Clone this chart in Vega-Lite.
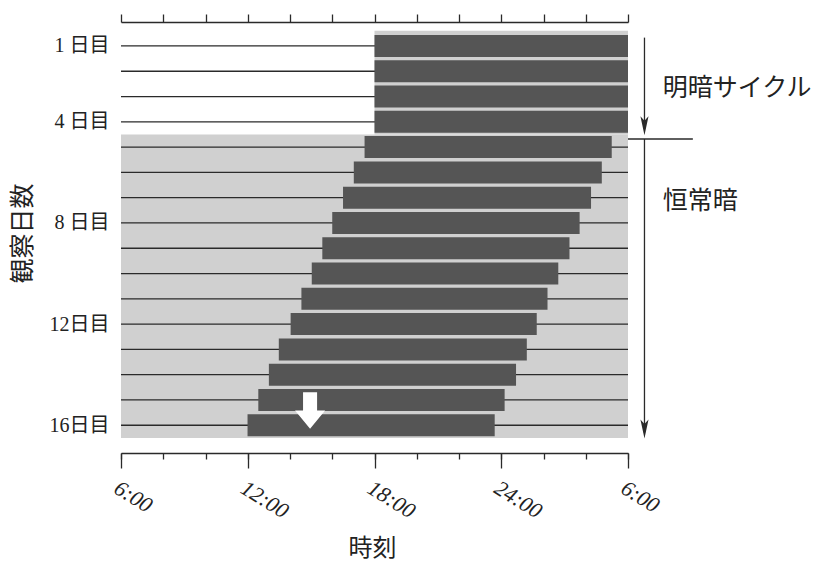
{
  "$schema": "https://vega.github.io/schema/vega-lite/v6.json",
  "width": 507,
  "height": 431,
  "autosize": "none",
  "padding": {"left": 121, "top": 22, "right": 191, "bottom": 112},
  "background": "white",
  "config": {
    "view": {"stroke": null},
    "axis": {"domainColor": "#2a2a2a", "tickColor": "#2a2a2a", "domainWidth": 1.3, "tickWidth": 1.3, "grid": false}
  },
  "datasets": {
    "shade": [
      {"from": 18, "to": 30, "dayFrom": 0.4, "dayTo": 4.5},
      {"from": 6, "to": 30, "dayFrom": 4.5, "dayTo": 16.5}
    ],
    "days": [
      {"day": 1}, {"day": 2}, {"day": 3}, {"day": 4}, {"day": 5}, {"day": 6}, {"day": 7}, {"day": 8},
      {"day": 9}, {"day": 10}, {"day": 11}, {"day": 12}, {"day": 13}, {"day": 14}, {"day": 15}, {"day": 16}
    ],
    "bars": [
      {"day": 1, "start": 18, "end": 30},
      {"day": 2, "start": 18, "end": 30},
      {"day": 3, "start": 18, "end": 30},
      {"day": 4, "start": 18, "end": 30},
      {"day": 5, "start": 17.53, "end": 29.23},
      {"day": 6, "start": 17.02, "end": 28.76},
      {"day": 7, "start": 16.51, "end": 28.25},
      {"day": 8, "start": 16.0, "end": 27.71},
      {"day": 9, "start": 15.53, "end": 27.23},
      {"day": 10, "start": 15.03, "end": 26.7},
      {"day": 11, "start": 14.54, "end": 26.19},
      {"day": 12, "start": 14.03, "end": 25.68},
      {"day": 13, "start": 13.47, "end": 25.21},
      {"day": 14, "start": 13.0, "end": 24.7},
      {"day": 15, "start": 12.5, "end": 24.16},
      {"day": 16, "start": 11.99, "end": 23.69}
    ],
    "arrowLines": [
      {"x": 30.78, "x2": 30.78, "y": 0.67, "y2": 4.3},
      {"x": 30.78, "x2": 30.78, "y": 4.68, "y2": 16.3},
      {"x": 30.0, "x2": 33.07, "y": 4.68, "y2": 4.68}
    ],
    "arrowHeads": [
      {"x": 30.78, "y": 4.53},
      {"x": 30.78, "y": 16.52}
    ],
    "notes": [
      {"label": "明暗サイクル", "x": 31.65, "y": 2.68},
      {"label": "恒常暗", "x": 31.65, "y": 7.13}
    ],
    "marker": [
      {"x": 14.95, "y": 16.14}
    ]
  },
  "layer": [
    {
      "data": {"name": "shade"},
      "mark": {"type": "rect", "color": "#d0d0d0"},
      "encoding": {
        "x": {"field": "from", "type": "quantitative", "scale": {"domain": [6, 30], "nice": false, "zero": false},
          "axis": {
            "orient": "bottom", "values": [6, 12, 18, 24, 30],
            "labelExpr": "datum.value == 30 ? '6:00' : datum.value + ':00'",
            "tickSize": 15, "labelAngle": 32, "labelAlign": "left", "labelBaseline": "top", "labelPadding": 9,
            "labelFont": "Liberation Serif", "labelFontStyle": "italic", "labelFontSize": 22, "labelColor": "#222",
            "labelOverlap": false, "labelFlush": false, "labelBound": false,
            "title": "時刻", "titleFont": "Noto Sans CJK JP", "titleFontSize": 24, "titleFontWeight": "normal",
            "titleColor": "#222", "titleX": 251, "titleY": 95, "titleAlign": "center", "titleBaseline": "middle"
          }},
        "x2": {"field": "to"},
        "y": {"field": "dayFrom", "type": "quantitative", "scale": {"domain": [0.25, 16.9], "nice": false, "zero": false, "reverse": true},
          "axis": {
            "orient": "left", "values": [1, 4, 8, 12, 16], "ticks": false, "domain": false,
            "labelExpr": "datum.value < 10 ? datum.value + ' 日目' : datum.value + '日目'",
            "labelFont": "Liberation Serif, Noto Sans CJK JP", "labelFontSize": 20, "labelColor": "#222", "labelPadding": 12,
            "labelOverlap": false, "labelBound": false, "labelFlush": false,
            "title": "観察日数", "titleFont": "Noto Sans CJK JP", "titleFontSize": 25, "titleFontWeight": "normal", "titleColor": "#222",
            "titleAngle": -90, "titleX": -99, "titleY": 211, "titleAlign": "center", "titleBaseline": "middle"
          }},
        "y2": {"field": "dayTo"}
      }
    },
    {
      "data": {"name": "days"},
      "mark": {"type": "rule", "color": "#2a2a2a", "strokeWidth": 1.3},
      "encoding": {
        "x": {"datum": 6, "type": "quantitative", "scale": {"domain": [6, 30], "nice": false, "zero": false},
          "axis": {"orient": "bottom", "values": [6, 8, 10, 12, 14, 16, 18, 20, 22, 24, 26, 28, 30], "tickSize": 6, "labels": false, "domain": false, "title": null}},
        "x2": {"datum": 30},
        "y": {"field": "day", "type": "quantitative", "scale": {"domain": [0.25, 16.9], "nice": false, "zero": false, "reverse": true}, "axis": null}
      }
    },
    {
      "data": {"name": "bars"},
      "mark": {"type": "bar", "color": "#555555", "height": 22},
      "encoding": {
        "x": {"field": "start", "type": "quantitative", "scale": {"domain": [6, 30], "nice": false, "zero": false},
          "axis": {"orient": "top", "values": [6, 8, 10, 12, 14, 16, 18, 20, 22, 24, 26, 28, 30], "tickSize": 8, "labels": false, "title": null}},
        "x2": {"field": "end"},
        "y": {"field": "day", "type": "quantitative", "scale": {"domain": [0.25, 16.9], "nice": false, "zero": false, "reverse": true}, "axis": null}
      }
    },
    {
      "data": {"name": "arrowLines"},
      "mark": {"type": "rule", "color": "#2a2a2a", "strokeWidth": 1.3},
      "encoding": {
        "x": {"field": "x", "type": "quantitative", "scale": {"domain": [6, 30], "nice": false, "zero": false}, "axis": null},
        "x2": {"field": "x2"},
        "y": {"field": "y", "type": "quantitative", "scale": {"domain": [0.25, 16.9], "nice": false, "zero": false, "reverse": true}, "axis": null},
        "y2": {"field": "y2"}
      }
    },
    {
      "data": {"name": "arrowHeads"},
      "mark": {"type": "point", "filled": true, "color": "#2a2a2a", "opacity": 1, "size": 324, "shape": "M 0 0 L -0.45 -2.1 L 0 -1.6 L 0.45 -2.1 Z"},
      "encoding": {
        "x": {"field": "x", "type": "quantitative", "scale": {"domain": [6, 30], "nice": false, "zero": false}, "axis": null},
        "y": {"field": "y", "type": "quantitative", "scale": {"domain": [0.25, 16.9], "nice": false, "zero": false, "reverse": true}, "axis": null}
      }
    },
    {
      "data": {"name": "marker"},
      "mark": {"type": "point", "filled": true, "color": "white", "opacity": 1, "size": 324, "shape": "M 0 0 L -1.67 -2.03 L -0.78 -2.03 L -0.78 -4.07 L 0.78 -4.07 L 0.78 -2.03 L 1.67 -2.03 Z"},
      "encoding": {
        "x": {"field": "x", "type": "quantitative", "scale": {"domain": [6, 30], "nice": false, "zero": false}, "axis": null},
        "y": {"field": "y", "type": "quantitative", "scale": {"domain": [0.25, 16.9], "nice": false, "zero": false, "reverse": true}, "axis": null}
      }
    },
    {
      "data": {"name": "notes"},
      "mark": {"type": "text", "align": "left", "baseline": "middle", "font": "Noto Sans CJK JP", "fontSize": 25, "color": "#222"},
      "encoding": {
        "x": {"field": "x", "type": "quantitative", "scale": {"domain": [6, 30], "nice": false, "zero": false}, "axis": null},
        "y": {"field": "y", "type": "quantitative", "scale": {"domain": [0.25, 16.9], "nice": false, "zero": false, "reverse": true}, "axis": null},
        "text": {"field": "label"}
      }
    }
  ],
  "resolve": {"axis": {"x": "independent", "y": "independent"}}
}
